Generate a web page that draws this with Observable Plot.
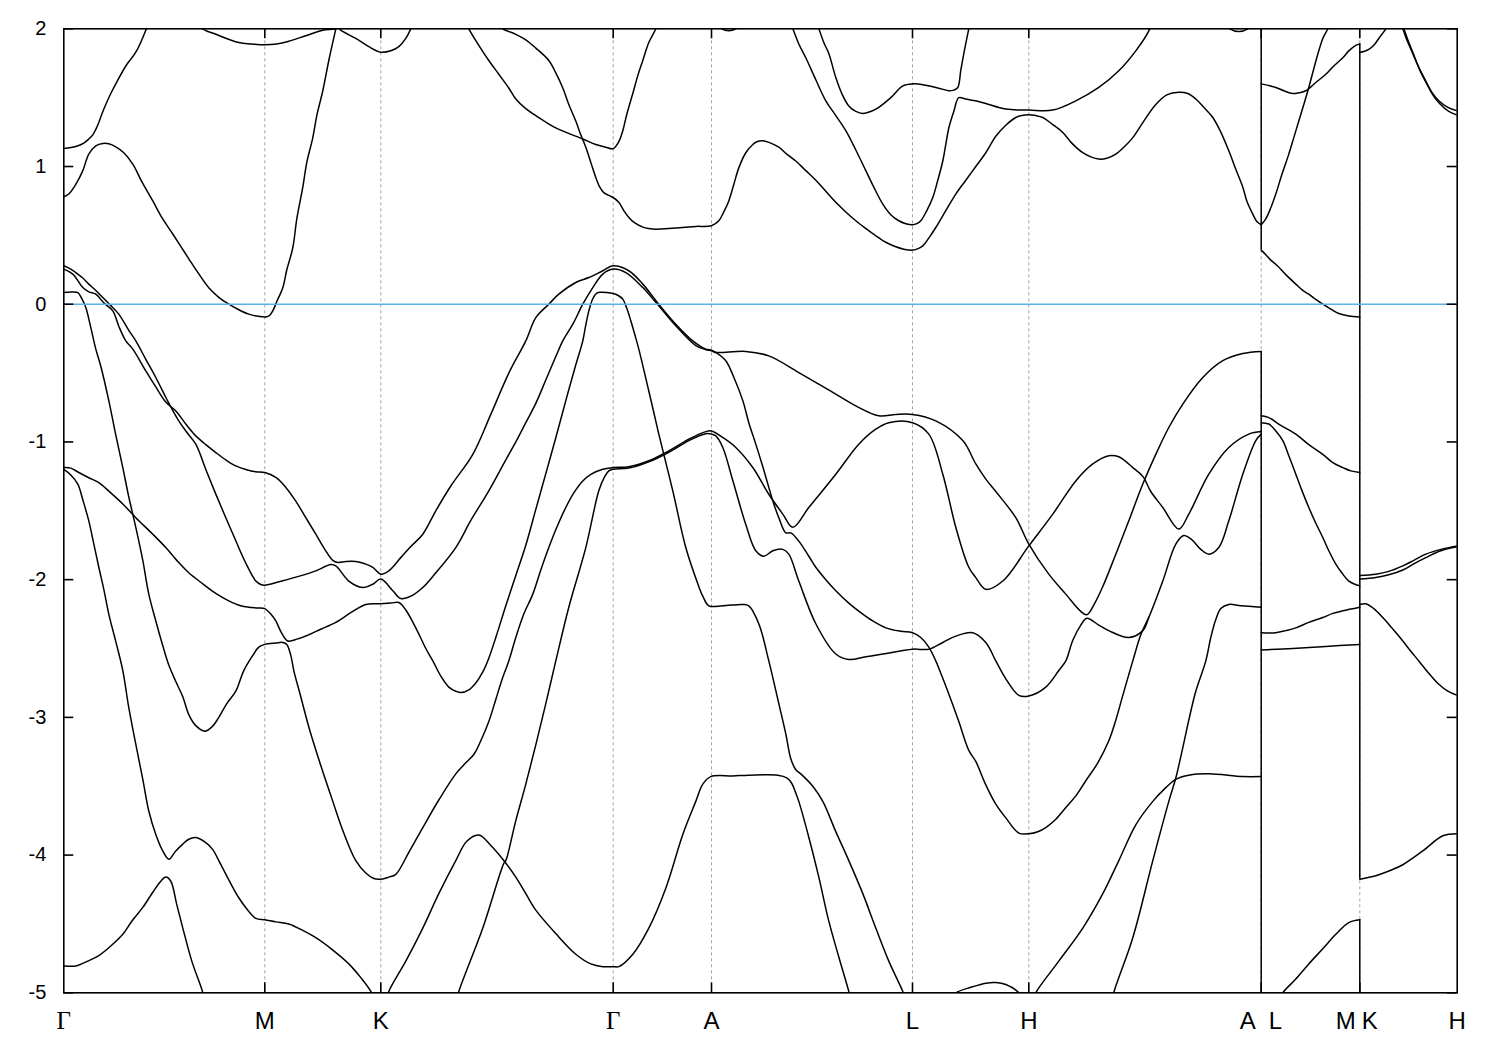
<!DOCTYPE html>
<html>
<head>
<meta charset="utf-8">
<script src="https://cdn.jsdelivr.net/npm/d3@7"></script>
<script src="https://cdn.jsdelivr.net/npm/@observablehq/plot@0.6"></script>
<style>
  html, body { margin: 0; padding: 0; background: #fff; }
  #chart { width: 1500px; height: 1050px; }
</style>
</head>
<body>
<div id="chart"></div>
<script>
// ---- k-path (high-symmetry points) ----
const kPoints = [0, 201, 317, 549.4, 647.7, 848.7, 965, 1197.4, 1296, 1393.4];
const kLabels = ["Γ", "M", "K", "Γ", "A", "L", "H", "A|L", "M|K", "H"];
const yTicks = [-5, -4, -3, -2, -1, 0, 1, 2];
const eFermi = 0;

// ---- conduction bands [k, E] ----
const C1 = [[0,1.13],[12,1.145],[20,1.17],[25,1.20],[29,1.23],[32,1.27],[35,1.32],[38,1.38],[42,1.45],[47,1.53],[52,1.60],[62,1.73],[72,1.83],[82,1.99],[87,2.1]];
const C2 = [[129,2.08],[139,2.0],[152,1.96],[175,1.90],[187,1.89],[201,1.884],[213,1.89],[225,1.91],[242,1.95],[259,1.99],[272,2.0],[282,2.04]];
const C3 = [[0,0.78],[5,0.80],[12,0.87],[19,0.97],[25,1.09],[32,1.15],[39,1.167],[45,1.165],[52,1.143],[60,1.10],[69,1.017],[78,0.89],[89,0.75],[98,0.63],[109,0.51],[117,0.42],[125,0.33],[135,0.22],[145,0.12],[155,0.05],[165,0.0],[175,-0.04],[185,-0.072],[195,-0.088],[202,-0.092],[206,-0.08],[209,-0.048],[213,0.02],[219,0.12],[223,0.25],[229,0.41],[233,0.62],[239,0.85],[243,1.03],[249,1.21],[253,1.37],[259,1.55],[265,1.77],[272,2.0],[274,2.07]];
const C4 = [[272,2.03],[277,1.99],[292,1.93],[305,1.87],[317,1.83],[327,1.84],[335,1.87],[342,1.93],[347,2.0],[349,2.03]];
const C5 = [[403,2.03],[405,2.0],[415,1.88],[425,1.77],[435,1.67],[445,1.57],[452,1.49],[462,1.42],[472,1.37],[492,1.28],[519,1.20],[532,1.16],[542,1.14],[549.4,1.13],[555,1.18],[559,1.26],[563,1.38],[569,1.53],[574,1.66],[579,1.77],[585,1.9],[592,2.0],[594,2.05]];
const C6 = [[435,2.03],[439,2.0],[452,1.96],[462,1.92],[472,1.86],[485,1.77],[492,1.68],[499,1.57],[505,1.45],[512,1.33],[517,1.23],[522,1.14],[527,1.03],[532,0.92],[536,0.85],[540,0.81],[545,0.79],[549.4,0.775],[555,0.74],[560,0.68],[565,0.63],[571,0.59],[579,0.56],[585,0.55],[592,0.545],[605,0.55],[619,0.557],[632,0.565],[647.7,0.57],[655,0.606],[660,0.67],[665,0.75],[670,0.87],[675,0.99],[682,1.10],[689,1.16],[693,1.18],[699,1.187],[707,1.17],[715,1.14],[723,1.09],[732,1.04],[742,0.97],[752,0.90],[762,0.82],[772,0.74],[782,0.67],[792,0.606],[802,0.55],[812,0.497],[822,0.45],[832,0.417],[840,0.40],[848.7,0.393],[853,0.40],[859,0.424],[865,0.48],[872,0.557],[882,0.68],[892,0.80],[902,0.90],[912,1.0],[922,1.10],[932,1.22],[942,1.30],[952,1.356],[958,1.37],[965,1.375],[972,1.37],[979,1.356],[988,1.31],[999,1.247],[1008,1.17],[1019,1.10],[1027,1.07],[1035,1.054],[1043,1.06],[1052,1.09],[1060,1.14],[1069,1.21],[1080,1.33],[1092,1.45],[1103,1.52],[1115,1.54],[1124,1.53],[1132,1.49],[1140,1.43],[1149,1.356],[1157,1.25],[1165,1.114],[1172,0.98],[1179,0.85],[1183,0.75],[1189,0.654],[1193,0.60],[1197.4,0.577]];
const C7 = [[727,2.03],[729,2.0],[735,1.89],[742,1.79],[752,1.63],[762,1.477],[772,1.37],[782,1.26],[792,1.12],[802,0.97],[810,0.85],[819,0.727],[827,0.65],[835,0.606],[842,0.585],[848.7,0.577],[853,0.585],[857,0.606],[863,0.68],[869,0.775],[874,0.90],[879,1.04],[882,1.16],[885,1.28],[890,1.40],[895,1.50],[902,1.49],[912,1.477],[922,1.457],[942,1.417],[965,1.41],[989,1.41],[1012,1.477],[1035,1.574],[1055,1.695],[1072,1.84],[1085,1.985],[1087,2.03]];
const C8 = [[753,2.03],[755,2.0],[760,1.90],[765,1.82],[772,1.646],[778,1.53],[785,1.44],[792,1.40],[799,1.385],[807,1.40],[815,1.43],[827,1.50],[839,1.586],[848.7,1.60],[862,1.59],[877,1.565],[885,1.55],[890,1.555],[894,1.574],[897,1.70],[900,1.82],[903,1.93],[905,2.0],[906,2.03]];
const C9 = [[654,2.03],[658,2.0],[665,1.986],[672,2.0],[676,2.03]];
const C10 = [[1162,2.03],[1166,2.0],[1175,1.98],[1184,2.0],[1188,2.03]];
const C11 = [[1197.4,1.60],[1212,1.574],[1220,1.55],[1229,1.53],[1235,1.535],[1242,1.55],[1252,1.61],[1262,1.67],[1270,1.73],[1279,1.79],[1285,1.84],[1292,1.88],[1296,1.89]];
const C12 = [[1197.4,0.577],[1202,0.62],[1207,0.70],[1212,0.80],[1218,0.94],[1225,1.09],[1230,1.21],[1235,1.33],[1240,1.45],[1245,1.574],[1250,1.71],[1255,1.84],[1259,1.93],[1264,2.0],[1265,2.03]];
const C13 = [[1197.4,0.393],[1202,0.36],[1207,0.32],[1212,0.29],[1222,0.215],[1232,0.146],[1239,0.10],[1245,0.073],[1252,0.035],[1259,0.0],[1267,-0.035],[1275,-0.067],[1285,-0.085],[1296,-0.092]];
const C14 = [[1296,1.83],[1300,1.835],[1305,1.85],[1310,1.88],[1315,1.93],[1322,2.0],[1324,2.03]];
const C15 = [[1337,2.03],[1339,2.0],[1343,1.92],[1349,1.82],[1355,1.72],[1362,1.62],[1368,1.54],[1375,1.477],[1384,1.43],[1393.4,1.405]];
const C16 = [[1338,2.03],[1340,2.0],[1344,1.92],[1350,1.81],[1356,1.70],[1363,1.60],[1369,1.52],[1376,1.455],[1385,1.40],[1393.4,1.373]];

// ---- valence bands [k, E] ----
const V1 = [[0,0.279],[7,0.255],[12,0.23],[19,0.19],[25,0.146],[32,0.10],[39,0.049],[47,-0.01],[55,-0.072],[65,-0.19],[72,-0.266],[82,-0.40],[92,-0.532],[103,-0.69],[115,-0.847],[123,-0.93],[132,-1.016],[142,-1.20],[152,-1.379],[162,-1.55],[172,-1.718],[182,-1.88],[192,-2.01],[197,-2.035],[201,-2.04],[225,-1.996],[252,-1.936],[267,-1.89],[272,-1.90],[285,-2.01],[299,-2.057],[309,-2.033],[317,-1.996],[329,-2.08],[337,-2.137],[347,-2.12],[359,-2.057],[372,-1.95],[392,-1.767],[407,-1.57],[425,-1.355],[442,-1.13],[452,-1.00],[462,-0.86],[472,-0.72],[482,-0.55],[492,-0.38],[499,-0.266],[509,-0.145],[519,0.0],[529,0.121],[539,0.219],[549.4,0.255],[562,0.23],[579,0.121],[595,-0.012],[612,-0.157],[632,-0.30],[642,-0.33],[647.7,-0.338],[652,-0.35],[682,-0.343],[705,-0.375],[735,-0.496],[769,-0.64],[792,-0.738],[815,-0.81],[832,-0.80],[848.7,-0.80],[872,-0.847],[899,-0.99],[912,-1.16],[922,-1.27],[932,-1.36],[952,-1.55],[965,-1.742],[985,-1.96],[1002,-2.105],[1017,-2.23],[1023,-2.255],[1031,-2.17],[1039,-2.05],[1052,-1.815],[1065,-1.573],[1079,-1.306],[1092,-1.09],[1105,-0.895],[1119,-0.725],[1139,-0.532],[1159,-0.41],[1179,-0.358],[1197.4,-0.343]];
const V2 = [[0,0.255],[9,0.219],[19,0.121],[25,0.09],[32,0.073],[40,0.01],[49,-0.048],[55,-0.16],[62,-0.266],[69,-0.326],[82,-0.484],[92,-0.60],[102,-0.71],[112,-0.775],[122,-0.87],[132,-0.956],[142,-1.02],[152,-1.077],[162,-1.13],[172,-1.174],[182,-1.20],[192,-1.217],[201,-1.222],[212,-1.258],[222,-1.33],[232,-1.43],[242,-1.55],[252,-1.67],[261,-1.78],[269,-1.86],[274,-1.875],[282,-1.868],[292,-1.868],[301,-1.885],[309,-1.91],[317,-1.96],[325,-1.936],[337,-1.84],[347,-1.76],[359,-1.67],[372,-1.50],[387,-1.32],[409,-1.09],[427,-0.80],[445,-0.50],[462,-0.266],[472,-0.097],[485,0.0],[495,0.073],[512,0.158],[525,0.194],[539,0.243],[549.4,0.279],[565,0.243],[579,0.146],[595,0.0],[612,-0.145],[629,-0.266],[642,-0.326],[647.7,-0.333],[652,-0.35],[662,-0.41],[670,-0.53],[679,-0.70],[685,-0.86],[692,-1.016],[699,-1.18],[705,-1.33],[710,-1.45],[715,-1.55],[722,-1.66],[727,-1.66],[735,-1.72],[745,-1.83],[752,-1.91],[762,-2.00],[772,-2.08],[785,-2.17],[799,-2.25],[809,-2.30],[822,-2.35],[837,-2.375],[848.7,-2.385],[857,-2.42],[865,-2.49],[872,-2.59],[877,-2.68],[885,-2.83],[895,-3.03],[905,-3.24],[912,-3.32],[922,-3.49],[932,-3.63],[942,-3.73],[955,-3.84],[965,-3.845],[974,-3.83],[982,-3.80],[992,-3.74],[1002,-3.655],[1012,-3.57],[1022,-3.46],[1034,-3.33],[1045,-3.17],[1052,-3.02],[1059,-2.84],[1069,-2.59],[1077,-2.40],[1085,-2.275]];
const V3 = [[0,0.085],[7,0.088],[14,0.085],[18,0.04],[22,-0.024],[27,-0.17],[32,-0.326],[37,-0.45],[45,-0.70],[52,-0.95],[59,-1.186],[65,-1.40],[72,-1.62],[79,-1.86],[85,-2.105],[92,-2.30],[99,-2.48],[105,-2.62],[112,-2.74],[119,-2.85],[125,-2.98],[132,-3.06],[141,-3.10],[148,-3.07],[155,-3.0],[163,-2.90],[172,-2.81],[180,-2.66],[189,-2.55],[195,-2.49],[201,-2.47],[212,-2.46],[219,-2.456],[223,-2.47],[227,-2.55],[230,-2.66],[237,-2.85],[245,-3.07],[257,-3.35],[269,-3.61],[280,-3.84],[292,-4.04],[302,-4.13],[310,-4.17],[317,-4.175],[325,-4.16],[332,-4.14],[345,-3.98],[359,-3.80],[375,-3.60],[392,-3.41],[402,-3.33],[410,-3.27],[417,-3.17],[425,-3.03],[432,-2.87],[438,-2.73],[445,-2.59],[452,-2.42],[460,-2.25],[469,-2.105],[477,-1.93],[485,-1.767],[493,-1.62],[502,-1.476],[510,-1.37],[519,-1.283],[527,-1.235],[539,-1.198],[549.4,-1.186],[565,-1.18],[585,-1.137],[605,-1.065],[625,-0.98],[642,-0.925],[647.7,-0.92],[659,-0.968],[672,-1.04],[689,-1.186],[705,-1.38],[719,-1.524],[729,-1.62],[745,-1.476],[772,-1.234],[795,-1.016],[812,-0.907],[825,-0.86],[848.7,-0.86],[865,-0.943],[879,-1.234],[892,-1.62],[905,-1.91],[912,-1.985],[922,-2.07],[939,-2.01],[965,-1.755],[989,-1.524],[1012,-1.283],[1029,-1.16],[1045,-1.10],[1055,-1.108],[1069,-1.186],[1079,-1.25],[1087,-1.36],[1099,-1.476],[1115,-1.633],[1125,-1.524],[1145,-1.234],[1165,-1.04],[1185,-0.943],[1197.4,-0.925]];
const V4 = [[0,-1.186],[7,-1.19],[15,-1.222],[25,-1.26],[35,-1.295],[47,-1.37],[59,-1.45],[72,-1.55],[89,-1.67],[102,-1.767],[113,-1.86],[125,-1.95],[139,-2.03],[152,-2.10],[165,-2.154],[177,-2.19],[185,-2.20],[194,-2.205],[201,-2.21],[207,-2.25],[212,-2.30],[218,-2.39],[224,-2.445],[234,-2.43],[245,-2.40],[257,-2.36],[272,-2.31],[287,-2.24],[302,-2.18],[317,-2.175],[327,-2.17],[335,-2.166],[342,-2.22],[352,-2.35],[362,-2.50],[369,-2.59],[377,-2.70],[385,-2.78],[392,-2.81],[397,-2.82],[405,-2.80],[412,-2.75],[419,-2.67],[425,-2.57],[432,-2.42],[442,-2.19],[452,-1.97],[462,-1.75],[472,-1.49],[482,-1.23],[492,-0.97],[502,-0.70],[512,-0.44],[519,-0.266],[522,-0.15],[525,-0.05],[529,0.04],[533,0.08],[537,0.087],[543,0.085],[549.4,0.078],[554,0.065],[559,0.037],[563,-0.03],[567,-0.12],[571,-0.22],[575,-0.326],[585,-0.63],[595,-0.943],[609,-1.355],[622,-1.767],[634,-2.03],[639,-2.12],[645,-2.19],[659,-2.19],[679,-2.18],[685,-2.19],[695,-2.32],[705,-2.59],[715,-2.90],[722,-3.12],[727,-3.30],[732,-3.38],[737,-3.41],[749,-3.50],[759,-3.61],[772,-3.83],[785,-4.04],[799,-4.28],[812,-4.53],[825,-4.77],[839,-4.99],[842,-5.05]];
const V5 = [[0,-1.20],[7,-1.24],[14,-1.306],[19,-1.42],[25,-1.573],[30,-1.74],[35,-1.91],[40,-2.07],[45,-2.25],[52,-2.45],[59,-2.66],[65,-2.93],[72,-3.195],[79,-3.45],[85,-3.68],[92,-3.85],[99,-3.97],[105,-4.03],[112,-3.97],[119,-3.92],[125,-3.885],[132,-3.873],[142,-3.91],[149,-3.96],[155,-4.04],[165,-4.18],[175,-4.31],[184,-4.40],[192,-4.46],[201,-4.47],[212,-4.485],[225,-4.50],[237,-4.54],[252,-4.60],[269,-4.69],[285,-4.79],[297,-4.89],[307,-4.99],[310,-5.05]];
const V6 = [[0,-4.805],[12,-4.805],[24,-4.77],[35,-4.73],[47,-4.66],[59,-4.575],[68,-4.48],[79,-4.38],[89,-4.27],[97,-4.19],[102,-4.16],[107,-4.19],[113,-4.36],[119,-4.53],[128,-4.77],[139,-5.0],[140,-5.05]];
const V7 = [[393,-5.05],[395,-4.99],[419,-4.53],[440,-4.06],[442,-4.04],[452,-3.75],[462,-3.485],[472,-3.20],[482,-2.90],[492,-2.59],[505,-2.20],[522,-1.767],[535,-1.355],[541,-1.25],[545,-1.21],[549.4,-1.198],[565,-1.19],[585,-1.145],[605,-1.075],[625,-0.99],[642,-0.94],[647.7,-0.943],[652,-0.956],[659,-1.04],[669,-1.28],[682,-1.60],[692,-1.79],[700,-1.83],[709,-1.79],[719,-1.78],[725,-1.815],[735,-2.01],[752,-2.32],[772,-2.54],[785,-2.58],[802,-2.56],[819,-2.54],[848.7,-2.505],[865,-2.505],[879,-2.456],[892,-2.41],[909,-2.385],[922,-2.456],[932,-2.59],[942,-2.72],[955,-2.84],[965,-2.845],[982,-2.78],[995,-2.66],[1002,-2.59],[1009,-2.44],[1017,-2.33],[1023,-2.28],[1035,-2.33],[1045,-2.37],[1065,-2.42],[1079,-2.37],[1085,-2.275],[1099,-2.01],[1112,-1.742],[1120,-1.68],[1128,-1.71],[1137,-1.78],[1145,-1.815],[1155,-1.767],[1165,-1.573],[1179,-1.234],[1192,-0.99],[1197.4,-0.943]];
const V8 = [[323,-5.05],[325,-4.99],[342,-4.77],[359,-4.53],[375,-4.28],[392,-4.04],[403,-3.90],[415,-3.855],[427,-3.93],[439,-4.03],[452,-4.16],[462,-4.28],[472,-4.40],[492,-4.57],[512,-4.72],[527,-4.79],[539,-4.81],[549.4,-4.81],[555,-4.81],[569,-4.72],[585,-4.53],[602,-4.24],[619,-3.85],[632,-3.61],[639,-3.485],[647,-3.43],[669,-3.425],[685,-3.42],[714,-3.42],[723,-3.44],[728,-3.48],[732,-3.55],[735,-3.61],[745,-3.87],[755,-4.16],[765,-4.48],[775,-4.74],[785,-4.99],[787,-5.05]];
const V9 = [[970,-5.05],[972,-5.0],[995,-4.77],[1019,-4.53],[1039,-4.28],[1055,-4.04],[1072,-3.78],[1089,-3.61],[1102,-3.51],[1112,-3.45],[1125,-3.42],[1145,-3.41],[1179,-3.43],[1197.4,-3.43]];
const V10 = [[1049,-5.05],[1050,-5.0],[1069,-4.60],[1089,-4.04],[1105,-3.61],[1112,-3.44],[1119,-3.22],[1125,-3.02],[1132,-2.81],[1142,-2.59],[1147,-2.42],[1152,-2.29],[1157,-2.21],[1165,-2.18],[1177,-2.19],[1197.4,-2.20]];
const V11 = [[885,-5.05],[892,-5.0],[907,-4.96],[922,-4.93],[932,-4.925],[942,-4.94],[955,-5.0],[958,-5.05]];
const V12 = [[1296,-4.175],[1312,-4.15],[1327,-4.11],[1339,-4.07],[1359,-3.97],[1379,-3.86],[1393.4,-3.845]];
const V13 = [[1197.4,-0.81],[1205,-0.823],[1217,-0.88],[1232,-0.943],[1245,-1.02],[1259,-1.09],[1269,-1.15],[1279,-1.186],[1287,-1.21],[1296,-1.222]];
const V14 = [[1197.4,-0.86],[1205,-0.87],[1212,-0.92],[1219,-0.99],[1225,-1.10],[1232,-1.234],[1238,-1.35],[1245,-1.476],[1252,-1.59],[1259,-1.694],[1265,-1.79],[1272,-1.887],[1278,-1.95],[1285,-2.01],[1296,-2.045]];
const V15 = [[1197.4,-2.385],[1212,-2.385],[1222,-2.37],[1232,-2.35],[1245,-2.31],[1259,-2.275],[1269,-2.245],[1279,-2.226],[1296,-2.20]];
const V16 = [[1197.4,-2.51],[1229,-2.50],[1262,-2.485],[1296,-2.47]];
const V17 = [[1296,-1.97],[1312,-1.96],[1325,-1.94],[1339,-1.90],[1350,-1.86],[1362,-1.815],[1377,-1.78],[1393.4,-1.755]];
const V18 = [[1296,-1.996],[1312,-1.985],[1325,-1.965],[1339,-1.93],[1350,-1.885],[1362,-1.84],[1377,-1.79],[1393.4,-1.76]];
const V19 = [[1296,-2.18],[1302,-2.175],[1310,-2.21],[1319,-2.275],[1328,-2.35],[1339,-2.445],[1347,-2.52],[1355,-2.59],[1365,-2.68],[1375,-2.76],[1384,-2.81],[1393.4,-2.84]];
const V20 = [[1216,-5.05],[1219,-5.0],[1232,-4.90],[1245,-4.79],[1259,-4.68],[1272,-4.575],[1285,-4.49],[1296,-4.47]];

// band jumps at the discontinuous path points A|L and M|K: [E from, E to]
const jumpsAL = [[2.05, 0.393], [-0.343, -5.05]];
const jumpsMK = [[1.89, -4.175], [-4.47, -5.05]];

// ---- build tables ----
const bandList = {C1,C2,C3,C4,C5,C6,C7,C8,C9,C10,C11,C12,C13,C14,C15,C16,
                  V1,V2,V3,V4,V5,V6,V7,V8,V9,V10,V11,V12,V13,V14,V15,V16,V17,V18,V19,V20};
const rows = Object.entries(bandList).flatMap(([name, pts]) => pts.map(([k, E]) => ({band: name, k, E})));
const jumps = [
  ...jumpsAL.map(([a, b]) => ({k: kPoints[7], y1: a, y2: b})),
  ...jumpsMK.map(([a, b]) => ({k: kPoints[8], y1: a, y2: b}))
];
const gridK = kPoints.slice(1, -1);
const labelRows = kPoints.map((k, i) => ({k, label: kLabels[i]}));
const singleSans = labelRows.filter(d => !d.label.includes("|") && d.label !== "Γ");
const singleGamma = labelRows.filter(d => d.label === "Γ");
const splitRows = labelRows.filter(d => d.label.includes("|"));
const leftParts = splitRows.map(d => ({k: d.k, t: d.label.split("|")[0]}));
const rightParts = splitRows.map(d => ({k: d.k, t: d.label.split("|")[1]}));

const W = 1500, H = 1050;
const mL = 63.3, mR = 43.3, mT = 28.3, mB = 57.7;
const innerW = W - mL - mR, innerH = H - mT - mB;
const tickLen = 10;
const sans = "Liberation Sans, Arial, Helvetica, sans-serif";
const serif = "Liberation Serif, Times New Roman, DejaVu Serif, serif";

const chart = Plot.plot({
  width: W, height: H,
  marginLeft: mL, marginRight: mR, marginTop: mT, marginBottom: mB,
  style: {background: "white", fontFamily: sans},
  x: {domain: [kPoints[0], kPoints[kPoints.length - 1]], axis: null},
  y: {domain: [-5, 2], axis: null},
  marks: [
    Plot.ruleX(gridK, {x: d => d, stroke: "#a0a0a0", strokeWidth: 1, strokeDasharray: "3,3"}),
    Plot.line(rows, {x: "k", y: "E", z: "band", stroke: "black", strokeWidth: 1.5, clip: true, curve: "catmull-rom"}),
    Plot.ruleX(jumps, {x: "k", y1: "y1", y2: "y2", stroke: "black", strokeWidth: 1.5, clip: true}),
    Plot.ruleY([eFermi], {y: d => d, stroke: "#56b4e9", strokeWidth: 1.7}),
    Plot.frame({stroke: "black", strokeWidth: 1.6}),
    Plot.tickY(yTicks, {y: d => d, insetRight: innerW - tickLen, stroke: "black", strokeWidth: 1.6}),
    Plot.tickY(yTicks, {y: d => d, insetLeft: innerW - tickLen, stroke: "black", strokeWidth: 1.6}),
    Plot.tickX(gridK, {x: d => d, insetBottom: innerH - tickLen, stroke: "black", strokeWidth: 1.6}),
    Plot.tickX(gridK, {x: d => d, insetTop: innerH - tickLen, stroke: "black", strokeWidth: 1.6}),
    Plot.text(yTicks, {y: d => d, text: d => String(d), frameAnchor: "left", dx: -17.5, textAnchor: "end", fontSize: 20, fontFamily: sans, fill: "black"}),
    Plot.text(singleSans, {x: "k", text: "label", frameAnchor: "bottom", lineAnchor: "top", dy: 18.7, fontSize: 24, fontFamily: sans, fill: "black"}),
    Plot.text(singleGamma, {x: "k", text: "label", frameAnchor: "bottom", lineAnchor: "top", dy: 18.7, fontSize: 25, fontFamily: serif, fill: "black"}),
    Plot.text(leftParts.slice(0, 1), {x: "k", text: "t", frameAnchor: "bottom", lineAnchor: "top", dy: 18.7, dx: -5.5, textAnchor: "end", fontSize: 24, fontFamily: sans, fill: "black"}),
    Plot.text(rightParts.slice(0, 1), {x: "k", text: "t", frameAnchor: "bottom", lineAnchor: "top", dy: 18.7, dx: 7.5, textAnchor: "start", fontSize: 24, fontFamily: sans, fill: "black"}),
    Plot.text(leftParts.slice(1), {x: "k", text: "t", frameAnchor: "bottom", lineAnchor: "top", dy: 18.7, dx: -4, textAnchor: "end", fontSize: 24, fontFamily: sans, fill: "black"}),
    Plot.text(rightParts.slice(1), {x: "k", text: "t", frameAnchor: "bottom", lineAnchor: "top", dy: 18.7, dx: 2, textAnchor: "start", fontSize: 24, fontFamily: sans, fill: "black"})
  ]
});
document.getElementById("chart").appendChild(chart);
</script>
</body>
</html>
